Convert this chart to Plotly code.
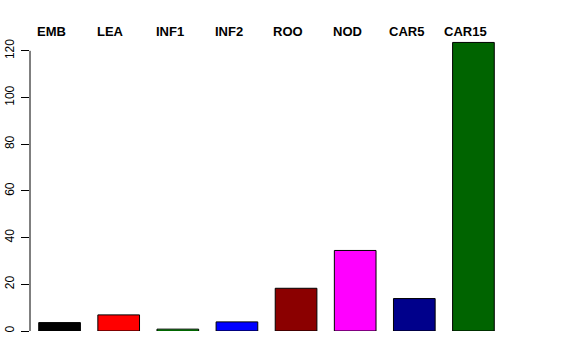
import plotly.graph_objects as go

categories = ["EMB", "LEA", "INF1", "INF2", "ROO", "NOD", "CAR5", "CAR15"]
values = [3.6, 6.9, 0.8, 3.9, 18.3, 34.5, 13.9, 123.6]
colors = ["#000000", "#FF0000", "#00CD00", "#0000FF", "#8B0000", "#FF00FF", "#00008B", "#006400"]
y_ticks = [0, 20, 40, 60, 80, 100, 120]

fig = go.Figure()
fig.add_trace(go.Bar(
    x=categories, y=values,
    marker=dict(color=colors, line=dict(color="black", width=1)),
    showlegend=False,
))

for c in categories:
    fig.add_annotation(
        x=c, y=1, xref="x", yref="paper", text="<b>%s</b>" % c,
        showarrow=False, yanchor="middle", xanchor="center", xshift=-8,
        font=dict(family="Liberation Sans, Arial, sans-serif", size=13, color="black"),
    )

fig.add_shape(type="line", xref="paper", yref="y", x0=0, x1=0,
              y0=y_ticks[0], y1=y_ticks[-1], line=dict(color="black", width=1))

fig.update_layout(
    width=576, height=360,
    margin=dict(l=30, r=73, t=31, b=29, pad=0, autoexpand=False),
    plot_bgcolor="white", paper_bgcolor="white",
    bargap=0.295,
    font=dict(family="Liberation Sans, Arial, sans-serif", size=12, color="black"),
    xaxis=dict(range=[-0.5, 7.5], showticklabels=False, showgrid=False,
               zeroline=False, showline=False, ticks="", automargin=False),
    yaxis=dict(range=[0, 128.5], tickvals=y_ticks, ticks="outside", ticklen=8,
               tickcolor="black", tickwidth=1, tickangle=-90,
               showgrid=False, zeroline=False, showline=False,
               automargin=False, ticklabelstandoff=2,
               tickfont=dict(size=12, color="black")),
)

fig.write_html("out.html")
